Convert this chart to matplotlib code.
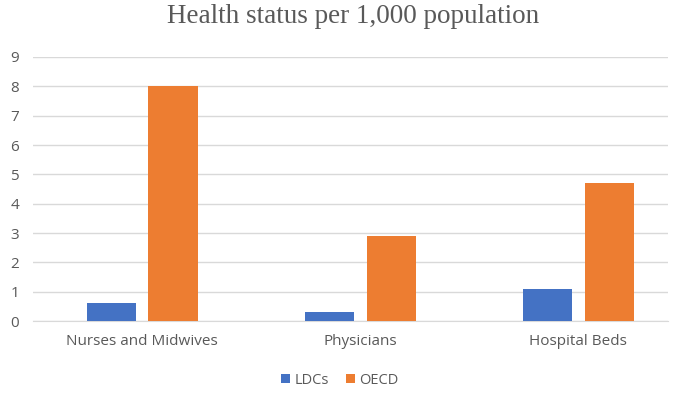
import numpy as np
import matplotlib.pyplot as plt

categories = ["Nurses and Midwives", "Physicians", "Hospital Beds"]
ldcs = [0.6, 0.3, 1.1]
oecd = [8.0, 2.9, 4.7]
y_ticks = list(range(0, 10))

fig = plt.figure(figsize=(6.8, 3.93), dpi=100)
ax = fig.add_axes([0.0485, 0.183, 0.9335, 0.672])

x = np.arange(len(categories))
w = 0.225
ax.bar(x - 0.142, ldcs, w, color="#4472C4", label="LDCs", zorder=3)
ax.bar(x + 0.142, oecd, w, color="#ED7D31", label="OECD", zorder=3)

ax.set_xlim(-0.5, 2.41)
ax.set_ylim(0, 9)
ax.set_yticks(y_ticks)
ax.set_xticks(x)
ax.set_xticklabels(categories)
ax.yaxis.grid(True, color="#d9d9d9", linewidth=1, zorder=0)
for s in ["top", "right", "left"]:
    ax.spines[s].set_visible(False)
ax.spines["bottom"].set_color("#d9d9d9")
ax.tick_params(axis="both", length=0, colors="#595959", labelsize=11)
ax.tick_params(axis="x", pad=9)
ax.tick_params(axis="y", pad=10)
for lab in ax.get_xticklabels() + ax.get_yticklabels():
    lab.set_family("Open Sans")

fig.text(0.519, 0.957, "Health status per 1,000 population", ha="center", va="center",
         family="Liberation Serif", fontsize=19.5, color="#595959")

leg = fig.legend(loc="center", bbox_to_anchor=(0.5, 0.033), ncol=2, frameon=False,
                 handlelength=0.6, handleheight=0.6, handletextpad=0.3, columnspacing=1.2,
                 prop={"family": "Open Sans", "size": 10.5})
for t in leg.get_texts():
    t.set_color("#595959")

fig.savefig("out.png", dpi=100)
